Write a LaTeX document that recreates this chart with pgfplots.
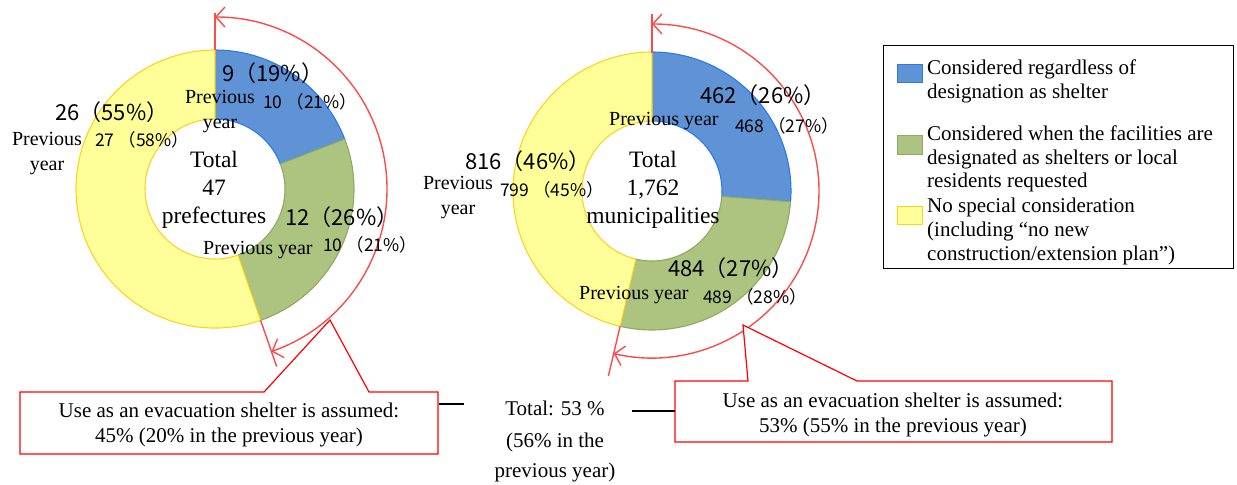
\documentclass[border=0pt]{standalone}
\usepackage{pgfplots}
\pgfplotsset{compat=1.18}
\usepackage{fontspec}
\setmainfont{Liberation Serif}
\newfontfamily\jp{Noto Sans CJK JP}
\usetikzlibrary{arrows.meta}

\definecolor{cblue}{HTML}{5F93D6}
\definecolor{cblueb}{HTML}{2A7AEE}
\definecolor{cgreen}{HTML}{ADC480}
\definecolor{cgreenb}{HTML}{8FAA62}
\definecolor{cyel}{HTML}{FFFF99}
\definecolor{cyelb}{HTML}{FFD21E}
\definecolor{arcred}{HTML}{FF4A4A}

% counts: left = prefectures, right = municipalities
\def\La{9}\def\Lb{12}\def\Lc{26}
\def\Ra{462}\def\Rb{484}\def\Rc{816}
\pgfmathsetmacro\Lt{\La+\Lb+\Lc}
\pgfmathsetmacro\Lab{90-360*(\La/\Lt)}
\pgfmathsetmacro\Lbc{\Lab-360*(\Lb/\Lt)}
\pgfmathsetmacro\Rt{\Ra+\Rb+\Rc}
\pgfmathsetmacro\Rab{90-360*(\Ra/\Rt)}
\pgfmathsetmacro\Rbc{\Rab-360*(\Rb/\Rt)}

% #1,#2 centre, #3,#4 angles, #5 fill, #6 border
\newcommand\sector[6]{%
  \fill[#5,draw=#6,line width=1.1bp]
    ([shift={(#3:139bp)}]axis cs:#1,#2) arc[start angle=#3,end angle=#4,radius=139bp]
    -- ([shift={(#4:70bp)}]axis cs:#1,#2) arc[start angle=#4,end angle=#3,radius=70bp] -- cycle;}

\begin{document}
\begin{tikzpicture}[
  lab/.style={inner sep=0,align=center,font=\fontsize{20bp}{25bp}\selectfont},
  num/.style={inner sep=0,anchor=west,font=\jp\fontsize{22bp}{24bp}\selectfont},
  snum/.style={inner sep=0,anchor=west,font=\jp\fontsize{17.5bp}{18bp}\selectfont},
  leg/.style={inner sep=0,anchor=base west,font=\fontsize{21bp}{24bp}\selectfont},
  box/.style={inner sep=0,font=\fontsize{21bp}{26bp}\selectfont},
  rarc/.style={arcred,line width=1.4bp,{Straight Barb[length=9bp,width=20bp]}-{Straight Barb[length=9bp,width=20bp]}}
]
\begin{axis}[
  width=1237bp, height=485bp, scale only axis,
  xmin=0, xmax=1237, ymin=0, ymax=485, y dir=reverse,
  hide axis, clip=false,
]
\path (axis cs:0,0) rectangle (axis cs:1237,485);

% ---- left donut (prefectures)
\sector{215}{189}{90}{\Lab}{cblue}{cblueb}
\sector{215}{189}{\Lab}{\Lbc}{cgreen}{cgreenb}
\sector{215}{189}{\Lbc}{-270}{cyel}{cyelb}

\draw[arcred,line width=1.4bp] (axis cs:215,13) -- (axis cs:215,50);
\draw[arcred,line width=1.4bp] ([shift={(\Lbc:139bp)}]axis cs:215,189) -- ([shift={(\Lbc:188bp)}]axis cs:215,189);
\draw[rarc] ([shift={(90:172bp)}]axis cs:215,189) arc[start angle=90,end angle=\Lbc,radius=172bp];

% ---- right donut (municipalities)
\sector{652}{191}{90}{\Rab}{cblue}{cblueb}
\sector{652}{191}{\Rab}{\Rbc}{cgreen}{cgreenb}
\sector{652}{191}{\Rbc}{-270}{cyel}{cyelb}

\draw[arcred,line width=1.4bp] (axis cs:652,14) -- (axis cs:652,53);
\draw[arcred,line width=1.4bp] ([shift={(\Rbc:139bp)}]axis cs:652,191) -- ([shift={(\Rbc:190bp)}]axis cs:652,191);
\draw[rarc] ([shift={(90:167bp)}]axis cs:652,191) arc[start angle=90,end angle=\Rbc,radius=167bp];

% ---- labels, left
\node[num] at (axis cs:222,73) {9（19\%）};
\node[lab] at (axis cs:220,112) {Previous\\year};
\node[snum] at (axis cs:263,102) {10 （21\%）};
\node[num] at (axis cs:55,112) {26（55\%）};
\node[lab] at (axis cs:47,154) {Previous\\year};
\node[snum] at (axis cs:95,140) {27 （58\%）};
\node[lab,font=\fontsize{23.5bp}{28bp}\selectfont] at (axis cs:214,190) {Total\\47\\prefectures};
\node[num] at (axis cs:285,217) {12（26\%）};
\node[lab,anchor=west] at (axis cs:203,250) {Previous year};
\node[snum] at (axis cs:323,245) {10 （21\%）};

% ---- labels, right
\node[num] at (axis cs:700,95) {462（26\%）};
\node[lab,anchor=west] at (axis cs:609,121) {Previous year};
\node[snum] at (axis cs:735,126) {468 （27\%）};
\node[num] at (axis cs:465,161) {816（46\%）};
\node[lab] at (axis cs:458,198) {Previous\\year};
\node[snum] at (axis cs:500,190) {799 （45\%）};
\node[lab,font=\fontsize{23.5bp}{28bp}\selectfont] at (axis cs:653,190) {Total\\1,762\\municipalities};
\node[num] at (axis cs:668,268) {484（27\%）};
\node[lab,anchor=west] at (axis cs:579,295) {Previous year};
\node[snum] at (axis cs:703,297) {489 （28\%）};

% ---- legend
\draw[black,line width=1bp] (axis cs:883,46) rectangle (axis cs:1233,268);
\draw[cblueb,fill=cblue,line width=1bp] (axis cs:897,65) rectangle (axis cs:922,83);
\draw[cgreenb,fill=cgreen,line width=1bp] (axis cs:897,135) rectangle (axis cs:922,154);
\draw[cyelb,fill=cyel,line width=1bp] (axis cs:897,206) rectangle (axis cs:922,224);
\node[leg] at (axis cs:927,75) {Considered regardless of};
\node[leg] at (axis cs:927,98) {designation as shelter};
\node[leg] at (axis cs:927,140) {Considered when the facilities are};
\node[leg] at (axis cs:927,164) {designated as shelters or local};
\node[leg] at (axis cs:927,187) {residents requested};
\node[leg] at (axis cs:927,212) {No special consideration};
\node[leg] at (axis cs:927,236) {(including “no new};
\node[leg] at (axis cs:927,260) {construction/extension plan”)};

% ---- callouts
\draw[red,fill=white,line width=1.2bp] (axis cs:20,392) -- (axis cs:264,392) -- (axis cs:330,320)
  -- (axis cs:369,392) -- (axis cs:438,392) -- (axis cs:438,454) -- (axis cs:20,454) -- cycle;
\node[box] at (axis cs:229,410) {Use as an evacuation shelter is assumed:};
\node[box] at (axis cs:229,437) {45\% (20\% in the previous year)};

\draw[red,fill=white,line width=1.2bp] (axis cs:675,381) -- (axis cs:748,381) -- (axis cs:743,325)
  -- (axis cs:857,381) -- (axis cs:1112,381) -- (axis cs:1112,442) -- (axis cs:675,442) -- cycle;
\node[box] at (axis cs:893,400) {Use as an evacuation shelter is assumed:};
\node[box] at (axis cs:893,427) {53\% (55\% in the previous year)};

\draw[black,line width=1.5bp] (axis cs:439,404) -- (axis cs:464,404);
\draw[black,line width=1.5bp] (axis cs:632,411) -- (axis cs:675,411);
\node[box] at (axis cs:555,408) {Total: 53 \%};
\node[box] at (axis cs:555,442) {(56\% in the};
\node[box] at (axis cs:555,472) {previous year)};
\end{axis}
\end{tikzpicture}
\end{document}
